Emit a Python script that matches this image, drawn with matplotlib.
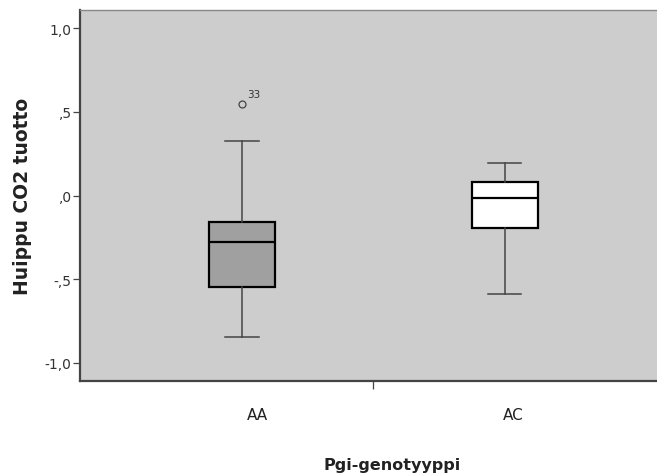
#!/usr/bin/env python3
"""
Boxplot of peak CO2 output by Pgi genotype (SPSS style)
"""

import matplotlib
matplotlib.use("Agg")
import matplotlib.pyplot as plt

groups = ["AA", "AC"]
whislo = [-0.847, -0.587]
q1 = [-0.547, -0.195]
med = [-0.278, -0.012]
q3 = [-0.159, 0.084]
whishi = [0.327, 0.196]
fliers = [[0.549], []]
flier_ids = [["33"], []]
box_colors = ["#a0a0a0", "#ffffff"]

yticks = [1.0, 0.5, 0.0, -0.5, -1.0]
ytick_labels = ["1,0", ",5", ",0", "-,5", "-1,0"]


def main():
    fig = plt.figure(figsize=(6.57, 4.77), dpi=100)
    ax = fig.add_axes([80 / 657, 95 / 477, 577 / 657, 371.5 / 477])
    ax.set_facecolor("#cdcdcd")

    stats = []
    for i, g in enumerate(groups):
        stats.append(dict(label=g, whislo=whislo[i], q1=q1[i], med=med[i],
                          q3=q3[i], whishi=whishi[i], fliers=fliers[i]))
    pos = [1, 2]
    bp = ax.bxp(stats, positions=pos, widths=0.251, patch_artist=True,
                manage_ticks=False,
                boxprops=dict(edgecolor="black", linewidth=1.6),
                medianprops=dict(color="black", linewidth=1.6),
                whiskerprops=dict(color="#444444", linewidth=1.1),
                capprops=dict(color="#444444", linewidth=1.1),
                flierprops=dict(marker="o", markersize=5, markerfacecolor="none",
                                markeredgecolor="#444444", markeredgewidth=0.9))
    for patch, c in zip(bp["boxes"], box_colors):
        patch.set_facecolor(c)

    # case number next to the outlier
    for i, ids in enumerate(flier_ids):
        for v, name in zip(fliers[i], ids):
            ax.annotate(name, (pos[i], v), xytext=(4, 5), textcoords="offset points",
                        fontsize=7.5, color="#333333")

    ax.set_xlim(0.384, 2.578)
    ax.set_ylim(-1.108, 1.112)

    ax.set_yticks(yticks)
    ax.set_yticklabels(ytick_labels, fontsize=10, color="#333333")
    ax.tick_params(axis="y", length=5, width=0.9, color="#444444", pad=1)

    ax.set_xticks([1.5])
    ax.set_xticklabels([""])
    ax.tick_params(axis="x", which="major", length=6, width=0.9, color="#444444",
                   direction="out")
    ax.set_xticks([1.06, 2.03], minor=True)
    ax.set_xticklabels(groups, minor=True, fontsize=11, color="#222222")
    ax.tick_params(axis="x", which="minor", length=0, pad=19)

    for s in ["left", "bottom"]:
        ax.spines[s].set_color("#444444")
        ax.spines[s].set_linewidth(1.6)
    ax.spines["top"].set_color("#888888")
    ax.spines["top"].set_linewidth(1.0)
    ax.spines["right"].set_visible(False)

    fig.text(23 / 657, 1 - 196 / 477, "Huippu CO2 tuotto", rotation=90,
             ha="center", va="center", fontsize=13.5, fontweight="bold",
             color="#222222")
    fig.text(392 / 657, 1 - 466 / 477, "Pgi-genotyyppi", ha="center",
             va="center", fontsize=11.5, fontweight="bold", color="#222222")

    fig.savefig("out.png", dpi=100)


if __name__ == '__main__':
    main()
